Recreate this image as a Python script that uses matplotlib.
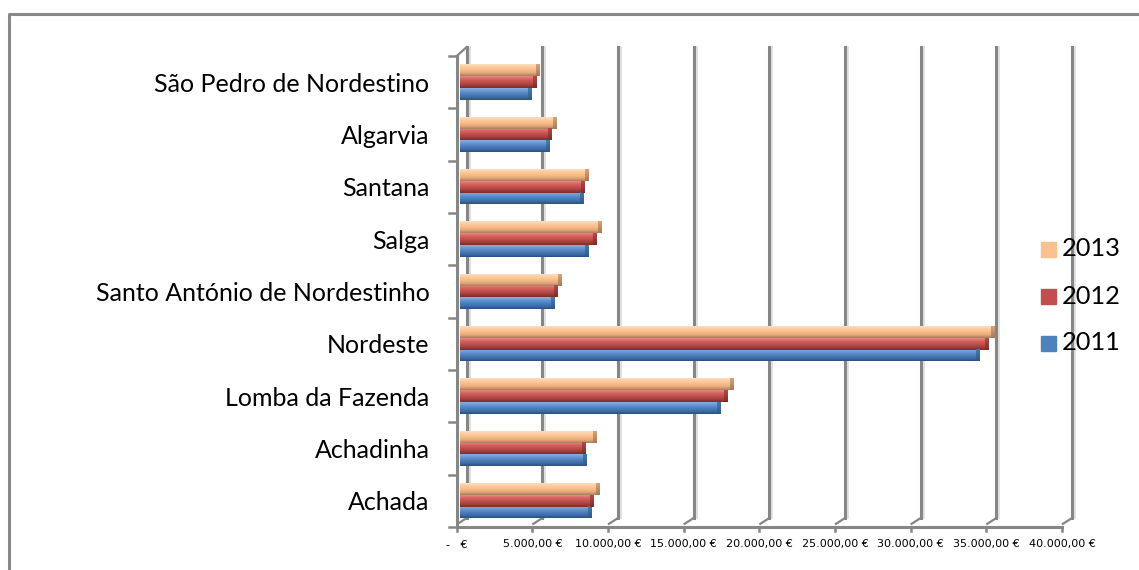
import matplotlib.pyplot as plt
import numpy as np
from matplotlib.colors import to_rgb
from matplotlib.patches import Rectangle
from matplotlib.lines import Line2D

# data (euros), bottom to top as in the chart
places = ["Achada", "Achadinha", "Lomba da Fazenda", "Nordeste",
          "Santo António de Nordestinho", "Salga", "Santana", "Algarvia",
          "São Pedro de Nordestino"]
v2011 = [8680, 8360, 17240, 34340, 6250, 8490, 8160, 5920, 4740]
v2012 = [8820, 8290, 17700, 34930, 6450, 9010, 8220, 6050, 5070]
v2013 = [9210, 9010, 18090, 35330, 6710, 9340, 8490, 6380, 5260]
years = ["2011", "2012", "2013"]
xticks = np.arange(0, 40001, 5000)


def euro(t):
    if t == 0:
        return "-   €"
    s = f"{t:,.2f}".replace(",", "X").replace(".", ",").replace("X", ".")
    return s + " €"


xlabels = [euro(t) for t in xticks]

# cylinder-like shading, top -> bottom
shades = {
    "2011": ["#8AAFE0", "#6796D2", "#4F81BD", "#3F6DA6", "#2C5282"],
    "2012": ["#E58683", "#D6625E", "#C0504D", "#A7403D", "#7E2C29"],
    "2013": ["#FDDDBF", "#FCCB9E", "#F7BB88", "#E7A978", "#A9805E"],
}
caps = {
    "2011": ["#4A78B0", "#3C6AA0", "#2F5886"],
    "2012": ["#B54845", "#9E3A37", "#7E2C29"],
    "2013": ["#D9A27A", "#C28E68", "#A37A58"],
}
legend_col = {"2011": "#4F81BD", "2012": "#C0504D", "2013": "#FAC090"}


def gradient(stops, n=24):
    cols = np.array([to_rgb(c) for c in stops])
    pos = np.linspace(0, 1, len(stops))
    t = np.linspace(0, 1, n)
    arr = np.stack([np.interp(t, pos, cols[:, k]) for k in range(3)], axis=-1)
    return arr[:, None, :]


W, H = 1139, 570
fig = plt.figure(figsize=(W / 100, H / 100), dpi=100)
ax = fig.add_axes([456.7 / W, 43 / H, 605.3 / W, 471 / H])
ax.set_facecolor("none")

grid_c = "#868686"
dx = 661      # back wall offset in euros (~10 px)
dy = 0.172    # back wall offset in category units (~9 px)

# back wall gridlines
for t in xticks:
    ax.plot([t + dx + 200, t + dx + 200], [-0.5 + dy, 8.5 + dy], color="#dcdcdc",
            lw=1.2, clip_on=False, zorder=1)
    ax.plot([t + dx, t + dx], [-0.5 + dy, 8.5 + dy], color=grid_c,
            lw=2.2, clip_on=False, zorder=1.5)
    ax.plot([t + 60, t + dx], [-0.5 + 0.06, -0.5 + dy], color=grid_c,
            lw=1.6, clip_on=False, zorder=1.5)
    # front tick
    ax.plot([t, t], [-0.5, -0.58], color=grid_c, lw=1.8, clip_on=False, zorder=2)

# front axes
ax.plot([0, 40000], [-0.5, -0.5], color=grid_c, lw=2.2, clip_on=False, zorder=2)
ax.plot([0, 0], [-0.5, 8.5], color=grid_c, lw=2.2, clip_on=False, zorder=2)
ax.plot([0, dx], [8.5, 8.5 + dy], color=grid_c, lw=1.6, clip_on=False, zorder=2)
for k in range(10):
    ax.plot([-480, 0], [k - 0.5, k - 0.5], color=grid_c, lw=1.8,
            clip_on=False, zorder=2)

# bars
h = 0.225
cap = 220
for yr, vals, off in [("2011", v2011, -0.225), ("2012", v2012, 0.0),
                      ("2013", v2013, 0.225)]:
    g = gradient(shades[yr])
    gc = gradient(caps[yr])
    for i, v in enumerate(vals):
        y0, y1 = i + off - h / 2, i + off + h / 2
        ax.imshow(g, extent=(200, v + 200, y0, y1), aspect="auto",
                  interpolation="bilinear", zorder=3)
        ax.imshow(gc, extent=(v + 200 - cap, v + 200, y0, y1), aspect="auto",
                  interpolation="bilinear", zorder=3.1)

ax.set_xlim(0, 40000)
ax.set_ylim(-0.5, 8.5)
for s in ax.spines.values():
    s.set_visible(False)

ax.set_yticks(range(len(places)), places, fontsize=18, family="Lato")
ax.tick_params(axis="y", length=0, pad=19.5)
ax.set_xticks(xticks, xlabels, fontsize=8)
ax.tick_params(axis="x", length=0, pad=9)

# legend
for yr, yc in [("2013", 249), ("2012", 296.5), ("2011", 343)]:
    fig.add_artist(Rectangle((1041 / W, 1 - (yc + 7.5) / H), 15 / W, 15 / H,
                             transform=fig.transFigure, color=legend_col[yr]))
    fig.text(1062 / W, 1 - yc / H, yr, fontsize=18.3, family="Lato",
             va="center", ha="left")

# outer frame
fig.add_artist(Line2D([8.5 / W, 8.5 / W, 1.01], [-0.01, 1 - 13.7 / H, 1 - 13.7 / H],
                      transform=fig.transFigure, color="#888888", lw=2.2))

fig.savefig("out.png", dpi=100)
